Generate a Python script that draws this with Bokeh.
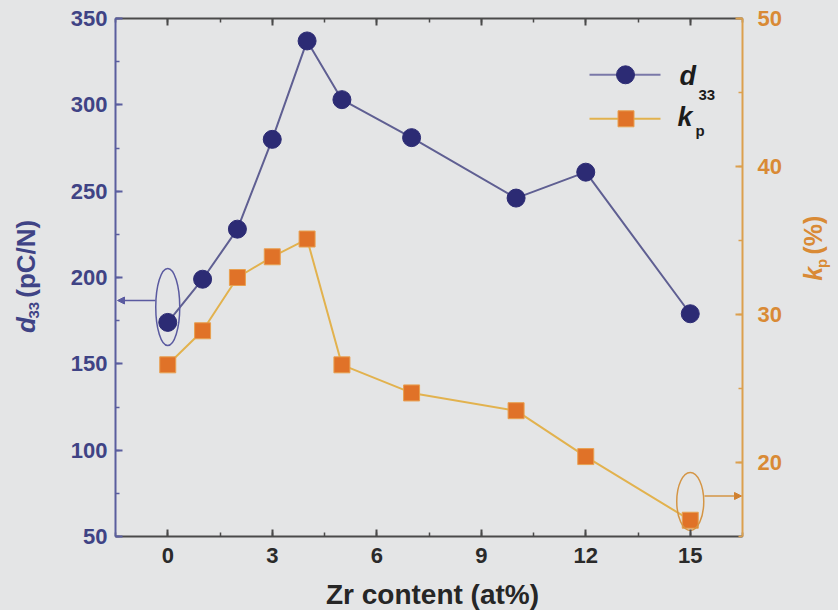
from math import pi

from bokeh.embed import file_html
from bokeh.resources import INLINE
from bokeh.plotting import figure
from bokeh.layouts import row, column
from bokeh.models import (Range1d, LinearAxis, SingleIntervalTicker, Label,
                          Arrow, NormalHead)

# Zr content (at%) and the two measured properties
zr = [0, 1, 2, 3, 4, 5, 7, 10, 12, 15]
d33 = [174, 199, 228, 280, 337, 303, 281, 246, 261, 179]     # pC/N
kp = [26.6, 28.9, 32.5, 33.9, 35.1, 26.6, 24.7, 23.5, 20.4, 16.1]  # %

x_ticks = [0, 3, 6, 9, 12, 15]
d33_ticks = [50, 100, 150, 200, 250, 300, 350]
kp_ticks = [20, 30, 40, 50]

# page layout: a title strip on each side of the chart and one below it
W, H = 838, 610
SIDE_L, SIDE_R, STRIP_B = 50, 50, 35
MAIN_W, MAIN_H = W - SIDE_L - SIDE_R, H - STRIP_B
LEFT, RIGHT, TOP, BOTTOM = 65, 46, 18, 39          # borders inside the chart
X0, X1 = -1.5, 16.5
Y0, Y1 = 50, 350
K0, K1 = 15, 50
FW, FH = MAIN_W - LEFT - RIGHT, MAIN_H - TOP - BOTTOM
FRAME_X = SIDE_L + LEFT                              # page column of the frame
DROP = 0.36                                          # label anchor to baseline, in em

BLUE_TXT = "#3f4385"
BLUE_AX = "#5a5e9e"
NAVY = "#2c2b74"
BLUE_LINE = "#5f5f92"
ORANGE_TXT = "#d98a35"
ORANGE_AX = "#dba04e"
ORANGE_MK = "#e07228"
ORANGE_LINE = "#e2b24e"
BG = "#e4e5e6"
FONT = "Liberation Sans"


def sx(px):
    """page pixel column -> x data value"""
    return X0 + (px - FRAME_X) * (X1 - X0) / FW


def sy(py):
    """page pixel row -> d33 data value"""
    return Y1 - (py - TOP) * (Y1 - Y0) / FH


def sk(py):
    """page pixel row -> kp data value"""
    return K1 - (py - TOP) * (K1 - K0) / FH


p = figure(width=MAIN_W, height=MAIN_H, x_range=Range1d(X0, X1),
           y_range=Range1d(Y0, Y1), output_backend="svg", toolbar_location=None,
           min_border_left=LEFT, min_border_right=RIGHT,
           min_border_top=TOP, min_border_bottom=BOTTOM)
p.extra_y_ranges = {"kp": Range1d(K0, K1)}
p.background_fill_color = BG
p.border_fill_color = BG
p.outline_line_color = None
p.grid.visible = False


def style_axis(ax, line_color, text_color, show_labels=True, standoff=8):
    ax.axis_line_color = line_color
    ax.axis_line_width = 2
    ax.major_tick_line_color = line_color
    ax.minor_tick_line_color = line_color
    ax.major_tick_line_width = 2
    ax.minor_tick_line_width = 1.5
    ax.major_tick_in = 7
    ax.major_tick_out = 0
    ax.minor_tick_in = 4
    ax.minor_tick_out = 0
    ax.major_label_text_font = FONT
    ax.major_label_text_font_style = "bold"
    ax.major_label_text_font_size = "22px"
    ax.major_label_text_color = text_color if show_labels else None
    ax.major_label_standoff = standoff


xaxis = p.xaxis[0]
xaxis.ticker = SingleIntervalTicker(interval=3, num_minor_ticks=2)
style_axis(xaxis, "#4a4a4a", "#2a2a2a", standoff=11)

yaxis = p.yaxis[0]
yaxis.ticker = SingleIntervalTicker(interval=50, num_minor_ticks=2)
style_axis(yaxis, BLUE_AX, BLUE_TXT, standoff=8)

top = LinearAxis(ticker=SingleIntervalTicker(interval=3, num_minor_ticks=2))
style_axis(top, "#4a4a4a", None, show_labels=False)
p.add_layout(top, "above")

right = LinearAxis(y_range_name="kp",
                   ticker=SingleIntervalTicker(interval=10, num_minor_ticks=2))
style_axis(right, ORANGE_AX, ORANGE_TXT, standoff=15)
p.add_layout(right, "right")

# data series
p.line(zr, d33, line_color=BLUE_LINE, line_width=2)
p.scatter(zr, d33, marker="circle", size=18, fill_color=NAVY, line_color=NAVY)

p.line(zr, kp, y_range_name="kp", line_color=ORANGE_LINE, line_width=2)
p.scatter(zr, kp, y_range_name="kp", marker="square", size=16,
          fill_color=ORANGE_MK, line_color="#e8a050", line_width=1)

# ellipses and arrows pointing each series to its axis
p.ellipse(x=[zr[0]], y=[sy(306.5)], width=24 * (X1 - X0) / FW,
          height=77 * (Y1 - Y0) / FH, fill_color=None,
          line_color="#5a5aa0", line_width=1.5)
p.add_layout(Arrow(x_start=sx(155), y_start=sy(300), x_end=sx(117), y_end=sy(300),
                   line_color="#5a5aa0", line_width=1.5,
                   end=NormalHead(size=7, fill_color="#5a5aa0", line_color="#5a5aa0")))

p.ellipse(x=[zr[-1]], y=[sk(501)], width=27 * (X1 - X0) / FW,
          height=58 * (K1 - K0) / FH, y_range_name="kp", fill_color=None,
          line_color="#d49545", line_width=1.5)
p.add_layout(Arrow(x_start=sx(704), y_start=sk(495.5), x_end=sx(741), y_end=sk(495.5),
                   y_range_name="kp", line_color="#d49545", line_width=1.5,
                   end=NormalHead(size=7, fill_color="#d08030", line_color="#d08030")))

# legend
p.line([sx(589), sx(660)], [sy(74.3), sy(74.3)], line_color="#7a78a8", line_width=2)
p.scatter([sx(625)], [sy(74.3)], marker="circle", size=18, fill_color=NAVY, line_color=NAVY)
p.line([sx(589), sx(660)], [sy(118.3), sy(118.3)], line_color=ORANGE_LINE, line_width=2)
p.scatter([sx(625.5)], [sy(118.3)], marker="square", size=16,
          fill_color=ORANGE_MK, line_color="#e8a050", line_width=1)


def label(fig, x, y, s, size, style="bold", color="#1c1c1c", angle=0.0,
          align="left"):
    fig.add_layout(Label(x=x, y=y, text=s, angle=angle, text_font=FONT,
                         text_font_style=style, text_font_size=f"{size}px",
                         text_color=color, text_align=align,
                         text_baseline="alphabetic"))


def chart_text(px, base, s, size, style="bold", color="#1c1c1c"):
    """horizontal text in the chart, given page column and baseline row"""
    label(p, sx(px), sy(base - DROP * size), s, size, style, color)


chart_text(679, 85, "d", 27, "bold italic")
chart_text(698, 100, "33", 15)
chart_text(677, 126, "k", 27, "bold italic")
chart_text(695, 135, "p", 15)


def strip(x_lo, x_hi, y_lo, y_hi):
    """blank panel whose data units are page pixels (y grows downwards)"""
    f = figure(width=x_hi - x_lo, height=y_hi - y_lo,
               x_range=Range1d(x_lo, x_hi), y_range=Range1d(y_hi, y_lo),
               output_backend="svg", toolbar_location=None,
               x_axis_location=None, y_axis_location=None,
               min_border=0)
    f.background_fill_color = BG
    f.border_fill_color = BG
    f.outline_line_color = None
    f.grid.visible = False
    return f


def vtext(fig, base_x, start_y, s, size, style, color):
    """text reading upwards; base_x is the baseline column, start_y its first row"""
    label(fig, base_x - DROP * size, start_y, s, size, style, color, pi / 2)


left_strip = strip(0, SIDE_L, 0, MAIN_H)
vtext(left_strip, 35, 349, "d", 26, "bold italic", BLUE_TXT)
vtext(left_strip, 39, 333, "33", 15, "bold", BLUE_TXT)
vtext(left_strip, 35, 310, "(pC/N)", 26, "bold", BLUE_TXT)

right_strip = strip(W - SIDE_R, W, 0, MAIN_H)
vtext(right_strip, 821, 291, "k", 25, "bold italic", ORANGE_TXT)
vtext(right_strip, 826, 277, "p", 15, "bold", ORANGE_TXT)
vtext(right_strip, 821, 262, "(%)", 25, "bold", ORANGE_TXT)

bottom_strip = strip(0, W, MAIN_H, H)
label(bottom_strip, 432, 604 - DROP * 28, "Zr content (at%)", 28,
      color="#262626", align="center")

page = column(row(left_strip, p, right_strip, spacing=0,
                  styles={"background-color": BG}),
              bottom_strip, spacing=0, styles={"background-color": BG})
open("out.html", "w").write(file_html(page, INLINE))
